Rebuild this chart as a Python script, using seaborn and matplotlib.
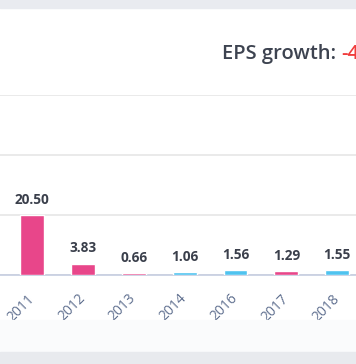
import numpy as np
import pandas as pd
import matplotlib
matplotlib.use('Agg')
import matplotlib.pyplot as plt
from matplotlib.patches import Rectangle
import seaborn as sns

# EPS values per year
years = ['2011', '2012', '2013', '2014', '2016', '2017', '2018']
eps = [20.50, 3.83, 0.66, 1.06, 1.56, 1.29, 1.55]
trend = ['down', 'down', 'down', 'up', 'up', 'down', 'up']
trend_colors = {'down': '#e8468a', 'up': '#4fc3ef'}

title_text = 'EPS growth: '
growth_text = '-4'

data = pd.DataFrame({'Year': years, 'EPS': eps, 'Trend': trend})

sns.set_style('white')
plt.rcParams['font.family'] = ['Open Sans', 'DejaVu Sans']

fig = plt.figure(figsize=(3.56, 3.64), dpi=100)
fig.patch.set_facecolor('white')

# page bands top / bottom
fig.patches.append(Rectangle((0, 1 - 8 / 364), 1, 8 / 364, transform=fig.transFigure,
                             color='#e9ebf0', zorder=0))
fig.patches.append(Rectangle((0, 12 / 364), 1, 32 / 364, transform=fig.transFigure,
                             color='#fafbfc', zorder=0))
fig.patches.append(Rectangle((0, 0), 1, 12 / 364, transform=fig.transFigure,
                             color='#e8eaee', zorder=0))

ax = fig.add_axes([0, 1 - 275 / 364, 1, 180 / 364])
ax.set_facecolor('none')

sns.barplot(data=data, x='Year', y='EPS', hue='Trend', palette=trend_colors,
            dodge=False, width=0.47, saturation=1, legend=False, ax=ax, zorder=3)

ax.set_xlim(-0.63, 6.37)
top = max(eps) * 3
ax.set_ylim(0, top)
ax.set_yticks(np.linspace(0, top, 4))
ax.yaxis.grid(True, color='#e6e6e6', linewidth=1.2)
ax.set_axisbelow(True)
ax.tick_params(axis='y', left=False, labelleft=False)
ax.tick_params(axis='x', bottom=False, pad=12)
for s in ['top', 'right', 'left']:
    ax.spines[s].set_visible(False)
ax.spines['bottom'].set_color('#c5cde0')
ax.spines['bottom'].set_linewidth(1.2)
ax.set_xlabel('')
ax.set_ylabel('')

for lbl in ax.get_xticklabels():
    lbl.set_rotation(45)
    lbl.set_ha('right')
    lbl.set_va('center')
    lbl.set_rotation_mode('anchor')
    lbl.set_fontsize(10)
    lbl.set_color('#5f6f8f')

# value labels above bars
for i, v in enumerate(eps):
    ax.annotate(f'{v:.2f}', (i, v), xytext=(0, 6), textcoords='offset points',
                ha='center', va='bottom', fontsize=9.8, fontweight='bold',
                color='#3a3f4b')

t = fig.text(222 / 356, 1 - 54 / 364, title_text, fontsize=14.5, fontweight='semibold',
             color='#3d4350', va='center', ha='left')
fig.canvas.draw()
bb = t.get_window_extent()
fig.text(bb.x1 / fig.bbox.width, 1 - 54 / 364, growth_text, fontsize=14.5,
         fontweight='semibold', color='#f03c3c', va='center', ha='left')

fig.savefig('out.png', dpi=100)
